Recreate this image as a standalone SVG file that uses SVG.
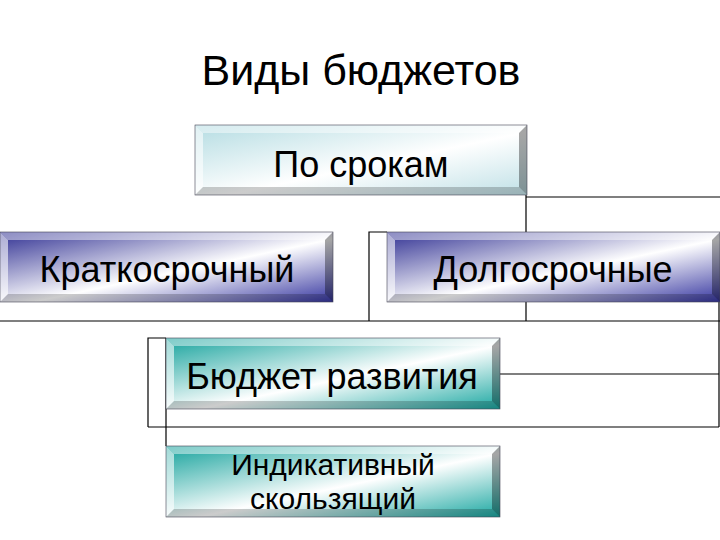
<svg xmlns="http://www.w3.org/2000/svg" width="720" height="540" viewBox="0 0 720 540">
<defs>
<linearGradient id="gLight" x1="0" y1="0" x2="1" y2="1">
<stop offset="0" stop-color="#b4dce2"/><stop offset="0.55" stop-color="#ffffff"/><stop offset="1" stop-color="#bfe0e6"/>
</linearGradient>
<linearGradient id="gBlue" x1="0" y1="0" x2="1" y2="1">
<stop offset="0" stop-color="#2f2f92"/><stop offset="0.55" stop-color="#ffffff"/><stop offset="1" stop-color="#3636a0"/>
</linearGradient>
<linearGradient id="gTeal" x1="0" y1="0" x2="1" y2="1">
<stop offset="0" stop-color="#15a29c"/><stop offset="0.55" stop-color="#ffffff"/><stop offset="1" stop-color="#1aa7a1"/>
</linearGradient>
</defs>
<style>
.ln{stroke:#000;stroke-width:1.2;fill:none}
.bt{fill:#fff;opacity:0.45}
.bl{fill:#fff;opacity:0.6}
.br{fill:#000;opacity:0.35}
.bb{fill:#000;opacity:0.2}
.edge{fill:none;stroke:#445;stroke-width:0.6}
.t{font-family:"Liberation Sans",Arial,sans-serif;fill:#000;text-anchor:middle}
</style>
<rect width="720" height="540" fill="#fff"/>
<text class="t" x="361" y="85" font-size="43">Виды бюджетов</text>
<g id="connectors">
<path class="ln" d="M526,195 V321 M526,197 H720 M387,232 H369 V321 M0,321 H720 M166,338 H148 V427 M148,427 H719 M500,374 H719 M719,300 V427 M166,338 V446"/>
</g>
<g id="node-po-srokam">
<rect x="195" y="125" width="332" height="70" fill="url(#gLight)"/>
<polygon class="bt" points="195,125 527,125 519,133 203,133"/>
<polygon class="bl" points="195,125 203,133 203,187 195,195"/>
<polygon class="br" points="527,125 527,195 519,187 519,133"/>
<polygon class="bb" points="195,195 527,195 519,187 203,187"/>
<rect class="edge" x="195" y="125" width="332" height="70"/>
<text class="t" x="361" y="177" font-size="36">По срокам</text>
</g>
<g id="node-kratko">
<rect x="0" y="232" width="333" height="70" fill="url(#gBlue)"/>
<polygon class="bt" points="0,232 333,232 325,240 8,240"/>
<polygon class="bl" points="0,232 8,240 8,294 0,302"/>
<polygon class="br" points="333,232 333,302 325,294 325,240"/>
<polygon class="bb" points="0,302 333,302 325,294 8,294"/>
<rect class="edge" x="0" y="232" width="333" height="70"/>
<text class="t" x="167" y="282" font-size="36">Краткосрочный</text>
</g>
<g id="node-dolgo">
<rect x="387" y="232" width="333" height="70" fill="url(#gBlue)"/>
<polygon class="bt" points="387,232 720,232 712,240 395,240"/>
<polygon class="bl" points="387,232 395,240 395,294 387,302"/>
<polygon class="br" points="720,232 720,302 712,294 712,240"/>
<polygon class="bb" points="387,302 720,302 712,294 395,294"/>
<rect class="edge" x="387" y="232" width="333" height="70"/>
<text class="t" x="553" y="282" font-size="36">Долгосрочные</text>
</g>
<g id="node-razvitiya">
<rect x="166" y="338" width="334" height="71" fill="url(#gTeal)"/>
<polygon class="bt" points="166,338 500,338 492,346 174,346"/>
<polygon class="bl" points="166,338 174,346 174,401 166,409"/>
<polygon class="br" points="500,338 500,409 492,401 492,346"/>
<polygon class="bb" points="166,409 500,409 492,401 174,401"/>
<rect class="edge" x="166" y="338" width="334" height="71"/>
<text class="t" x="332" y="389" font-size="36">Бюджет развития</text>
</g>
<g id="node-indikativ">
<rect x="166" y="446" width="334" height="71" fill="url(#gTeal)"/>
<polygon class="bt" points="166,446 500,446 492,454 174,454"/>
<polygon class="bl" points="166,446 174,454 174,509 166,517"/>
<polygon class="br" points="500,446 500,517 492,509 492,454"/>
<polygon class="bb" points="166,517 500,517 492,509 174,509"/>
<rect class="edge" x="166" y="446" width="334" height="71"/>
<text class="t" x="333" y="475" font-size="30">Индикативный</text>
<text class="t" x="333" y="509" font-size="30">скользящий</text>
</g>
</svg>
